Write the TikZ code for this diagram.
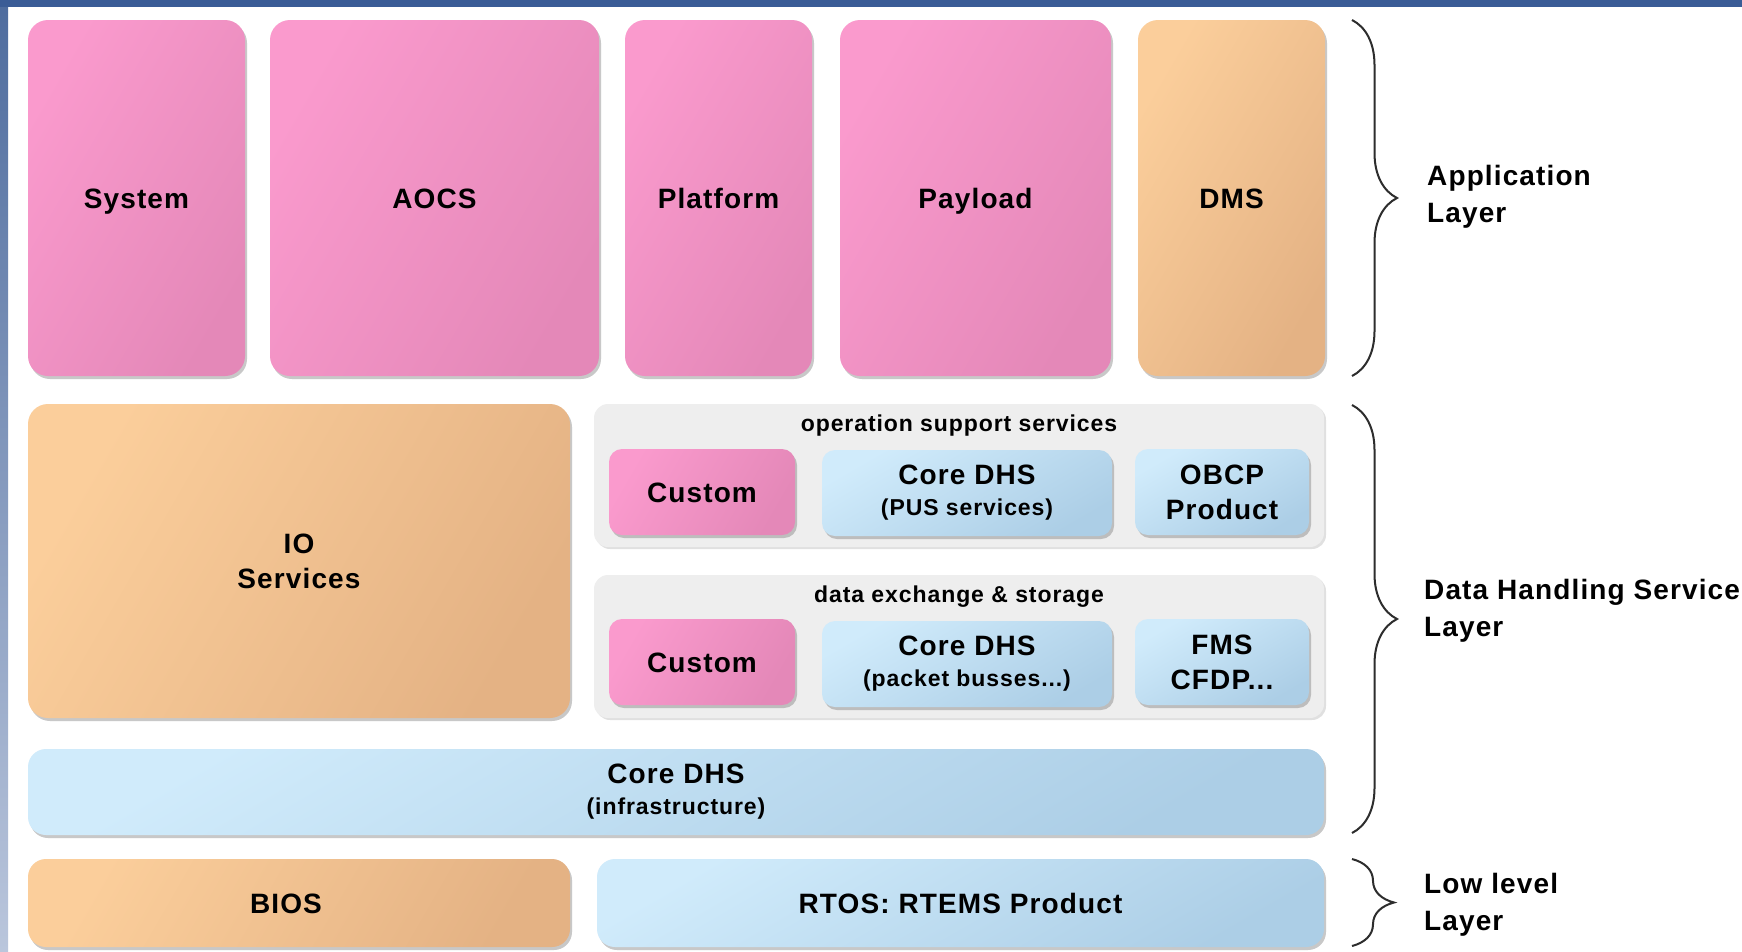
\documentclass[tikz,border=0pt]{standalone}
\usepackage{fontspec}
\setmainfont{Liberation Sans}[LetterSpace=4]
\usetikzlibrary{shadows,decorations.pathreplacing}

\definecolor{pinkA}{RGB}{250,154,205}
\definecolor{pinkB}{RGB}{228,136,184}
\definecolor{orangeA}{RGB}{251,206,155}
\definecolor{orangeB}{RGB}{228,178,132}
\definecolor{blueA}{RGB}{208,235,251}
\definecolor{blueB}{RGB}{172,206,230}
\definecolor{groupgray}{RGB}{238,238,238}
\definecolor{topband}{RGB}{58,92,150}
\definecolor{sideA}{RGB}{78,108,158}
\definecolor{sideB}{RGB}{186,198,220}
\definecolor{bracegray}{RGB}{45,45,45}

\tikzset{
  layerbox/.style={rectangle, rounded corners=20pt, draw=none, inner sep=0pt,
    align=center, font=\bfseries\fontsize{28}{35}\selectfont,
    drop shadow={shadow xshift=2pt, shadow yshift=-3pt, opacity=0.3, fill=black!70}},
  oneline/.style={text height=20pt, text depth=0pt},
  smallbox/.style={layerbox, rounded corners=13pt},
  pinkfill/.style={left color=pinkA, right color=pinkB, shading angle=60},
  orangefill/.style={left color=orangeA, right color=orangeB, shading angle=60},
  bluefill/.style={left color=blueA, right color=blueB, shading angle=30},
  groupbox/.style={rectangle, rounded corners=14pt, draw=none, fill=groupgray,
    drop shadow={shadow xshift=2pt, shadow yshift=-2pt, opacity=0.12, fill=black}},
  grouplabel/.style={font=\bfseries\fontsize{23}{27}\selectfont, inner sep=0pt},
  layerlabel/.style={anchor=west, align=left, inner sep=0pt,
    font=\bfseries\fontsize{28}{37}\selectfont},
  layerbrace/.style={decorate, decoration={brace, amplitude=45pt},
    line width=2pt, draw=bracegray}
}

\newcommand{\subline}[1]{{\fontsize{23}{28}\selectfont #1}}

\begin{document}
\begin{tikzpicture}[x=1pt, y=-1pt]
  \useasboundingbox (0,0) rectangle (1742,951);

  % page background with the blue band along the top and left
  \fill[white] (0,0) rectangle (1742,951);
  \shade[top color=sideA, bottom color=sideB] (0,0) rectangle (8,951);
  \fill[topband] (0,0) rectangle (1742,7);

  % application layer
  \node[layerbox, oneline, pinkfill, minimum width=217pt, minimum height=356pt] (system) at (136.5,198) {System};
  \node[layerbox, oneline, pinkfill, minimum width=329pt, minimum height=356pt] (aocs) at (434.5,198) {AOCS};
  \node[layerbox, oneline, pinkfill, minimum width=187pt, minimum height=356pt] (platform) at (718.5,198) {Platform};
  \node[layerbox, oneline, pinkfill, minimum width=271pt, minimum height=356pt] (payload) at (975.5,198) {Payload};
  \node[layerbox, oneline, orangefill, minimum width=187pt, minimum height=356pt] (dms) at (1231.5,198) {DMS};

  % data handling service layer
  \node[layerbox, orangefill, minimum width=542pt, minimum height=314pt] (io) at (299,561) {IO\\Services};

  \node[groupbox, minimum width=730pt, minimum height=143pt] (opsgroup) at (959,475.5) {};
  \node[grouplabel] (opslabel) at (959,426) {operation support services};
  \node[smallbox, oneline, pinkfill, minimum width=186pt, minimum height=86pt] (custom1) at (702,492) {Custom};
  \node[smallbox, bluefill, minimum width=290pt, minimum height=86pt] (core1) at (967,493)
    {Core DHS\\[-4pt]\subline{(PUS services)}};
  \node[smallbox, bluefill, minimum width=174pt, minimum height=86pt] (obcp) at (1222,492) {OBCP\\Product};

  \node[groupbox, minimum width=730pt, minimum height=143pt] (datagroup) at (959,646.5) {};
  \node[grouplabel] (datalabel) at (959,597) {data exchange \& storage};
  \node[smallbox, oneline, pinkfill, minimum width=186pt, minimum height=86pt] (custom2) at (702,662) {Custom};
  \node[smallbox, bluefill, minimum width=290pt, minimum height=86pt] (core2) at (967,664)
    {Core DHS\\[-4pt]\subline{(packet busses...)}};
  \node[smallbox, bluefill, minimum width=174pt, minimum height=86pt] (fms) at (1222,662) {FMS\\CFDP...};

  \node[layerbox, bluefill, rounded corners=18pt, minimum width=1296pt, minimum height=86pt] (infra) at (676,792)
    {Core DHS\\[-4pt]\subline{(infrastructure)}};

  % low level layer (the BIOS label sits a little left of the box centre)
  \node[layerbox, oneline, orangefill, rounded corners=18pt, minimum width=542pt, minimum height=88pt] (bios) at (299,903) {\hspace*{-26pt}BIOS};
  \node[layerbox, oneline, bluefill, rounded corners=18pt, minimum width=727pt, minimum height=88pt] (rtos) at (960.5,903) {RTOS: RTEMS Product};

  % layer braces and their labels
  \coordinate (appTop) at (1352,20);
  \coordinate (appBot) at (1352,376);
  \coordinate (dhsTop) at (1352,405);
  \coordinate (dhsBot) at (1352,833);
  \coordinate (lowTop) at (1352,859);
  \coordinate (lowBot) at (1352,946);
  \draw[layerbrace] (appTop) -- (appBot);
  \draw[layerbrace] (dhsTop) -- (dhsBot);
  \draw[layerbrace, decoration={amplitude=42pt}] (lowTop) -- (lowBot);

  \node[layerlabel] (applabel) at (1427,197) {Application\\Layer};
  \node[layerlabel] (dhslabel) at (1424,611) {Data Handling Service\\Layer};
  \node[layerlabel] (lowlabel) at (1424,905) {Low level\\Layer};
\end{tikzpicture}
\end{document}
